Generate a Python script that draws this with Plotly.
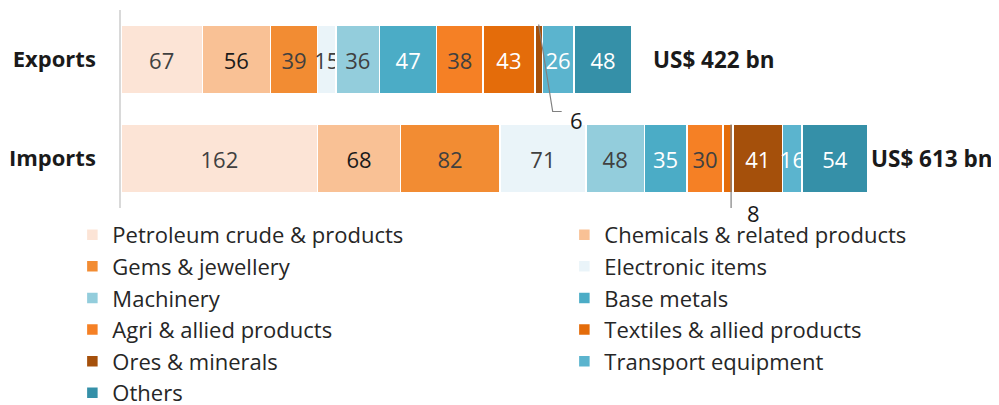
import plotly.graph_objects as go

# Trade composition, US$ bn
categories = ["Exports", "Imports"]
series = [
    "Petroleum crude & products", "Chemicals & related products",
    "Gems & jewellery", "Electronic items", "Machinery", "Base metals",
    "Agri & allied products", "Textiles & allied products",
    "Ores & minerals", "Transport equipment", "Others",
]
exports = [67, 56, 39, 15, 36, 47, 38, 43, 6, 26, 48]
imports = [162, 68, 82, 71, 48, 35, 30, 8, 41, 16, 54]
totals = [422, 613]

colors = ["#FCE4D6", "#F9C195", "#F28C33", "#EAF4F9", "#93CDDC", "#4BACC6",
          "#F58025", "#E46C0A", "#A5500B", "#5BB4CE", "#3590A8"]
# label colour (exports, imports)
text_colors = [("#404040", "#404040"), ("#1a1a1a", "#1a1a1a"), ("#404040", "#404040"),
               ("#404040", "#404040"), ("#404040", "#404040"), ("white", "white"),
               ("#404040", "#404040"), ("white", "white"), ("white", "white"),
               ("white", "white"), ("white", "white")]
small_cut = 10  # values below this get a callout instead of an inside label

font = "Open Sans"
fig = go.Figure()

for i, name in enumerate(series):
    vals = [exports[i], imports[i]]
    fig.add_trace(go.Bar(
        y=categories, x=vals, name=name, orientation="h",
        marker=dict(color=colors[i], line=dict(color="white", width=1.5)),
        text=[str(v) if v >= small_cut else "" for v in vals],
        textposition="inside", insidetextanchor="middle", textangle=0,
        textfont=dict(family=font, size=22, color=list(text_colors[i])),
        width=0.7, hoverinfo="name+x",
    ))

# totals at the end of each bar
for cat, tot, shift in zip(categories, totals, [19, 1]):
    fig.add_annotation(x=sum(exports if cat == "Exports" else imports), y=cat,
                       text=f"<b>US$ {tot} bn</b>", showarrow=False,
                       xanchor="left", xshift=shift,
                       font=dict(family=font, size=22.5, color="#1a1a1a"))

# elbow callouts for the thin segments (offsets in px from the segment centre)
callouts = {
    "Exports": dict(path="M0,35 L14,-52 L23,-52", dx=38, dy=-60),
    "Imports": dict(path="M3,34 L3,-50 L11,-50", dx=25, dy=-54),
}
for cat, vals in zip(categories, [exports, imports]):
    for i, v in enumerate(vals):
        if v < small_cut:
            centre = sum(vals[:i]) + v / 2
            c = callouts[cat]
            fig.add_shape(type="path", xref="x", yref="y",
                          xsizemode="pixel", ysizemode="pixel",
                          xanchor=centre, yanchor=cat, path=c["path"],
                          line=dict(color="#808080", width=1.2))
            fig.add_annotation(x=centre, y=cat, xshift=c["dx"], yshift=c["dy"],
                               text=str(v), showarrow=False,
                               font=dict(family=font, size=22, color="#1a1a1a"))

fig.update_layout(
    width=991, height=397,
    margin=dict(l=113, r=5, t=2, b=197, autoexpand=False),
    barmode="stack",
    plot_bgcolor="white", paper_bgcolor="white",
    uniformtext=dict(minsize=22, mode="show"),
    showlegend=True,
    legend=dict(orientation="h", x=-0.0557, y=-0.03, xanchor="left", yanchor="top",
                entrywidth=447, entrywidthmode="pixels", traceorder="normal",
                font=dict(family=font, size=22, color="#262626")),
    font=dict(family=font),
)
fig.update_xaxes(range=[0, 719], visible=False, showgrid=False, zeroline=False)
fig.update_yaxes(range=[1.5, -0.5], showline=True, linecolor="#d9d9d9", linewidth=1.5,
                 showgrid=False, ticks="", ticklabelstandoff=19, automargin=False,
                 tickfont=dict(family=font, size=22, color="#1a1a1a", weight="bold"))

fig.write_html("out.html")
